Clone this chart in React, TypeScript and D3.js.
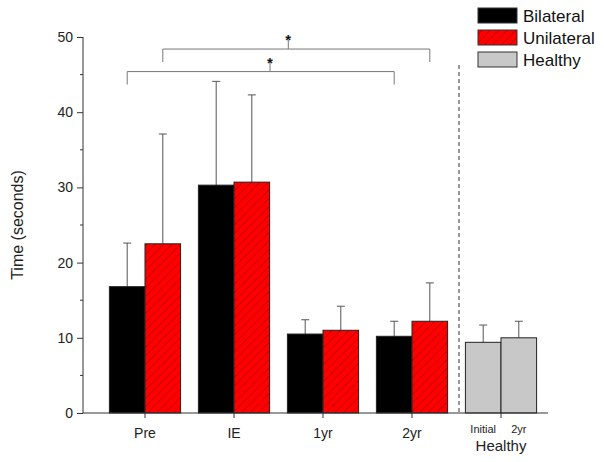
import * as d3 from "d3";
import { useRef, useEffect } from "react";

const groups = ["Pre", "IE", "1yr", "2yr"];
const bilateral = [16.8, 30.3, 10.5, 10.2];
const bilateralErr = [5.8, 13.8, 1.9, 2.0];
const unilateral = [22.5, 30.7, 11.0, 12.2];
const unilateralErr = [14.6, 11.6, 3.2, 5.1];
const healthyLabels = ["Initial", "2yr"];
const healthy = [9.4, 10.0];
const healthyErr = [2.3, 2.2];
const yTicks = [0, 10, 20, 30, 40, 50];
const yMinor = [5, 15, 25, 35, 45];
const legendItems = ["Bilateral", "Unilateral", "Healthy"];
// significance: Pre vs 2yr, for series 0 (bilateral) and 1 (unilateral)
const sigSeries = [0, 1];
const sigLevel = [45.4, 48.4];
const sigStarAt = [0.535, 0.47];

const App = () => {
  const ref = useRef<SVGSVGElement>(null);

  useEffect(() => {
    const font = "'Liberation Sans', Arial, sans-serif";
    const svg = d3.select(ref.current);
    svg.selectAll("*").remove();

    const defs = svg.append("defs");
    const pat = defs
      .append("pattern")
      .attr("id", "hatch")
      .attr("patternUnits", "userSpaceOnUse")
      .attr("width", 6)
      .attr("height", 6)
      .attr("patternTransform", "rotate(45)");
    pat.append("rect").attr("width", 6).attr("height", 6).attr("fill", "#ff0000");
    pat
      .append("line")
      .attr("x1", 0)
      .attr("y1", 0)
      .attr("x2", 0)
      .attr("y2", 6)
      .attr("stroke", "#b80000")
      .attr("stroke-width", 1.4);

    const y = d3.scaleLinear().domain([0, 50]).range([413, 37]);
    const x = d3
      .scaleBand()
      .domain([...groups, "Healthy"])
      .range([100.5, 545.5])
      .paddingInner(0.2)
      .paddingOuter(0.1);
    const xs = d3.scaleBand<number>().domain([0, 1]).range([0, x.bandwidth()]);
    const barCenter = (g: string, s: number) => x(g)! + xs(s)! + xs.bandwidth() / 2;

    const bars: { x: number; v: number; e: number; fill: string }[] = [];
    groups.forEach((g, i) => {
      bars.push({ x: x(g)! + xs(0)!, v: bilateral[i], e: bilateralErr[i], fill: "#000" });
      bars.push({ x: x(g)! + xs(1)!, v: unilateral[i], e: unilateralErr[i], fill: "url(#hatch)" });
    });
    healthyLabels.forEach((_, i) => {
      bars.push({ x: x("Healthy")! + xs(i)!, v: healthy[i], e: healthyErr[i], fill: "#c8c8c8" });
    });

    // error bars (upper only)
    const eg = svg.append("g").attr("stroke", "#555").attr("stroke-width", 1);
    bars.forEach((b) => {
      const cx = b.x + xs.bandwidth() / 2;
      eg.append("line").attr("x1", cx).attr("x2", cx).attr("y1", y(b.v)).attr("y2", y(b.v + b.e));
      eg.append("line")
        .attr("x1", cx - 4)
        .attr("x2", cx + 4)
        .attr("y1", y(b.v + b.e))
        .attr("y2", y(b.v + b.e));
    });

    svg
      .append("g")
      .selectAll("rect")
      .data(bars)
      .join("rect")
      .attr("x", (d) => d.x)
      .attr("y", (d) => y(d.v))
      .attr("width", xs.bandwidth())
      .attr("height", (d) => y(0) - y(d.v))
      .attr("fill", (d) => d.fill)
      .attr("stroke", "#222")
      .attr("stroke-width", 1);

    // dashed separator
    svg
      .append("line")
      .attr("x1", 459)
      .attr("x2", 459)
      .attr("y1", 65)
      .attr("y2", y(0))
      .attr("stroke", "#333")
      .attr("stroke-dasharray", "4,3");

    // y axis
    const ya = svg
      .append("g")
      .attr("transform", "translate(83,0)")
      .call(d3.axisLeft(y).tickValues(yTicks).tickSize(6).tickPadding(4));
    ya.selectAll("text").style("font-family", font).style("font-size", "14px").attr("fill", "#222");
    ya.selectAll("line, path").attr("stroke", "#333");
    ya.select(".domain").attr("d", `M0,${y(0)}V${y(50)}`);
    svg
      .append("g")
      .attr("transform", "translate(83,0)")
      .selectAll("line")
      .data(yMinor)
      .join("line")
      .attr("x1", -3)
      .attr("x2", 0)
      .attr("y1", (d) => y(d))
      .attr("y2", (d) => y(d))
      .attr("stroke", "#333");

    // x axis
    const xg = svg.append("g");
    xg.append("line")
      .attr("x1", 83)
      .attr("x2", 548)
      .attr("y1", y(0))
      .attr("y2", y(0))
      .attr("stroke", "#333");
    [...groups, "Healthy"].forEach((g) => {
      const cx = x(g)! + x.bandwidth() / 2;
      xg.append("line").attr("x1", cx).attr("x2", cx).attr("y1", y(0)).attr("y2", y(0) + 5).attr("stroke", "#333");
    });
    groups.forEach((g) => {
      xg.append("text")
        .attr("x", x(g)! + x.bandwidth() / 2)
        .attr("y", 438)
        .attr("text-anchor", "middle")
        .style("font-family", font)
        .style("font-size", "14px")
        .attr("fill", "#222")
        .text(g);
    });
    healthyLabels.forEach((l, i) => {
      xg.append("text")
        .attr("x", barCenter("Healthy", i))
        .attr("y", 433)
        .attr("text-anchor", "middle")
        .style("font-family", font)
        .style("font-size", "11px")
        .attr("fill", "#222")
        .text(l);
    });
    xg.append("text")
      .attr("x", x("Healthy")! + x.bandwidth() / 2)
      .attr("y", 451)
      .attr("text-anchor", "middle")
      .style("font-family", font)
      .style("font-size", "15px")
      .attr("fill", "#222")
      .text("Healthy");

    svg
      .append("text")
      .attr("transform", `translate(23,${y(25)}) rotate(-90)`)
      .attr("text-anchor", "middle")
      .style("font-family", font)
      .style("font-size", "16px")
      .attr("fill", "#222")
      .text("Time (seconds)");

    // significance brackets
    sigSeries.forEach((s, i) => {
      const bx1 = barCenter("Pre", s);
      const bx2 = barCenter("2yr", s);
      const yy = y(sigLevel[i]);
      const mid = bx1 + (bx2 - bx1) * sigStarAt[i];
      svg
        .append("path")
        .attr("d", `M${bx1},${yy + 13}V${yy}H${bx2}V${yy + 13}M${mid},${yy}V${yy - 9}`)
        .attr("fill", "none")
        .attr("stroke", "#777")
        .attr("stroke-width", 1);
      svg
        .append("text")
        .attr("x", mid)
        .attr("y", yy - 4)
        .attr("text-anchor", "middle")
        .style("font-family", font)
        .style("font-size", "15px")
        .style("font-weight", "bold")
        .attr("fill", "#111")
        .text("*");
    });

    // legend
    const lg = svg.append("g").attr("transform", "translate(478,8)");
    const fills = ["#000", "url(#hatch)", "#c8c8c8"];
    legendItems.forEach((l, i) => {
      lg.append("rect")
        .attr("x", 0)
        .attr("y", i * 22)
        .attr("width", 39)
        .attr("height", 15)
        .attr("fill", fills[i])
        .attr("stroke", "#333");
      lg.append("text")
        .attr("x", 45)
        .attr("y", i * 22 + 14)
        .style("font-family", font)
        .style("font-size", "17px")
        .attr("fill", "#111")
        .text(l);
    });
  }, []);

  return (
    <svg
      ref={ref}
      width={604}
      height={462}
      style={{ position: "absolute", left: 0, top: 0, background: "#fff" }}
    ></svg>
  );
};

export default App;
